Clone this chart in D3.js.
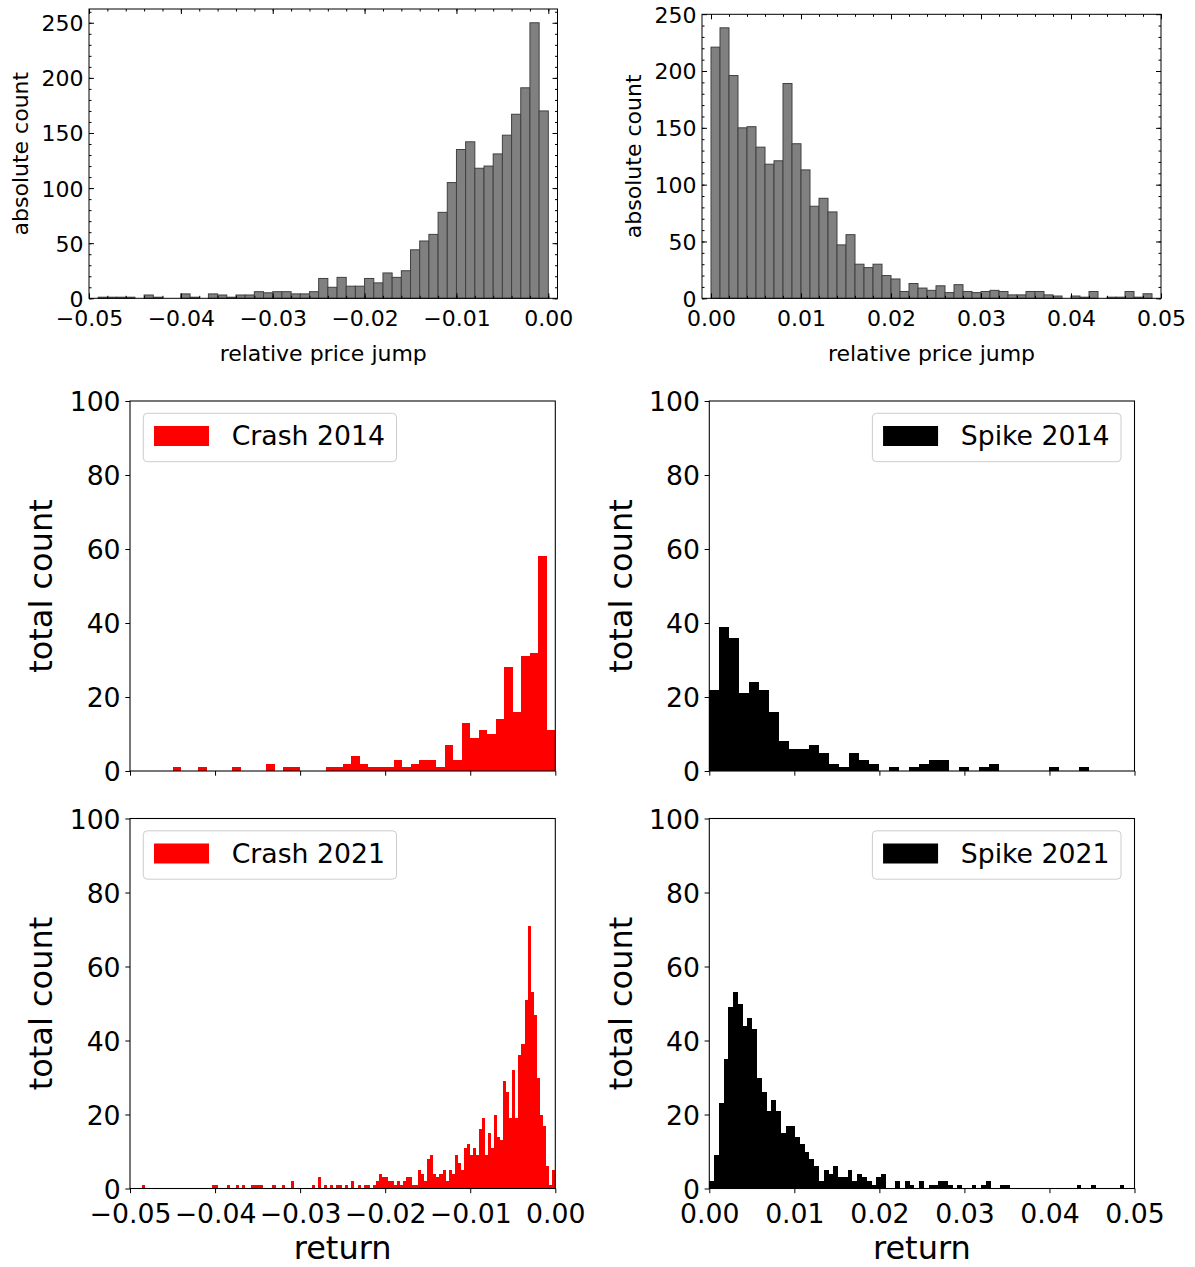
<!DOCTYPE html>
<html><head><meta charset="utf-8">
<script src="https://cdn.jsdelivr.net/npm/d3@7"></script>
<style>body{margin:0;background:#fff} svg{display:block}</style>
</head><body>
<svg id="chart" width="1195" height="1267"></svg>
<script>
// ---------------- data ----------------
// top row: all relative price jumps (histograms, bin start / width / counts)
const jumpsNegStart = -0.049, jumpsNegWidth = 0.001;
const jumpsNegCounts = [1,1,1,1,0,3,1,0,0,4, 1,0,4,3,1,3,3,6,5,6, 6,4,4,6,18,10,19,11,11,18,
  14,23,19,25,44,52,58,78,105,135, 142,118,120,131,148,167,191,250,170];
const jumpsPosStart = 0, jumpsPosWidth = 0.001;
const jumpsPosCounts = [221,238,196,150,151,133,118,121,189,136, 113,81,88,76,47,56,30,27,30,20,
  17,6,13,9,7,11,5,12,6,5, 6,7,6,3,3,6,6,3,2,0, 2,1,6,0,1,1,6,1,4];

// middle row: 2014
const crash2014Start = -0.05, crash2014Width = 0.001;
const crash2014Counts = [0,0,0,0,0,1,0,0,1,0, 0,0,1,0,0,0,2,0,1,1, 0,0,0,1,1,2,4,2,1,1,
  1,3,1,2,3,3,1,7,3,13, 9,11,10,14,28,16,31,32,58,11];
const spike2014Start = 0, spike2014Width = 0.0011765;
const spike2014Counts = [22,39,36,21,24,22,16,8,6,6, 7,5,2,1,5,3,2,0,1,0, 1,2,3,3,0,1,0,1,2,0,
  0,0,0,0,1,0,0,1];

// bottom row: 2021
const crash2021Start = -0.0486, crash2021Width = 0.000357;
const crash2021Counts = [1,0,0,0,0,0,0,0,0,0, 0,0,0,0,0,0,0,0,0,0, 0,0,0,
  1,1,0,0,0,1,0,0,1,0, 1,0,0,1,1,1,1,0,0,0, 1,0,0,1,0,0,2,0,0,0, 0,0,0,1,0,3,0,1,0,1,
  0,1,1,0,1,0,2,0,1,0, 1,1,0,1,2,4,3,3,2,2, 1,2,1,2,3,3,1,1,5,4, 2,8,9,4,3,4,5,2,5,4,
  9,7,5,11,12,9,11,9,16,19, 9,15,11,20,14,13,29,26,19,32, 19,36,39,51,71,53,47,30,20,17, 6,1,5];
const spike2021Start = 0, spike2021Width = 0.000561;
const spike2021Counts = [2,9,23,35,49,53,50,44,46,43, 30,26,21,24,21,15,17,17,14,12,
  10,8,6,2,5,4,6,3,3,5, 2,4,3,2,1,3,4,0,0,2, 0,2,1,0,2,0,1,1,2,2, 1,0,1,0,0,1,0,1,2,0,
  0,1,1,0,0,0,0,0,0,0, 0,0,0,0,0,0,0,1,0,0, 1,0,0,0,0,0,1];

// ticks and labels
const negTicks = [-0.05,-0.04,-0.03,-0.02,-0.01,0];
const posTicks = [0,0.01,0.02,0.03,0.04,0.05];
const topYTicks = [0,50,100,150,200,250];
const lowYTicks = [0,20,40,60,80,100];
const topXLabel = "relative price jump", topYLabel = "absolute count";
const lowXLabel = "return", lowYLabel = "total count";
const legendNames = ["Crash 2014","Spike 2014","Crash 2021","Spike 2021"];
const crashColor = "#ff0000", spikeColor = "#000000";

// ---------------- drawing ----------------
const svg = d3.select("#chart");
svg.append("rect").attr("width",1195).attr("height",1267).attr("fill","#fff");
const FONT = "DejaVu Sans";
const fmt2 = d3.format(".2f");

function bins(start, width, counts){
  return counts.map((c,i)=>({x0:start+i*width, x1:start+(i+1)*width, c}));
}
function styleText(sel, size){
  sel.selectAll("text").style("font-family",FONT).style("font-size",size+"px").attr("fill","#000");
}

function topPanel(o){
  const g = svg.append("g");
  const x = d3.scaleLinear().domain(o.xDomain).range([o.left,o.right]);
  const ymax = d3.max(o.counts)*1.05;
  const y = d3.scaleLinear().domain([0,ymax]).range([o.bottom,o.top]);
  g.selectAll("rect.bar").data(bins(o.start,o.width,o.counts).filter(d=>d.c>0)).join("rect")
    .attr("class","bar")
    .attr("x",d=>x(d.x0)).attr("width",d=>x(d.x1)-x(d.x0))
    .attr("y",d=>y(d.c)).attr("height",d=>y(0)-y(d.c))
    .attr("fill","#808080").attr("stroke","#404040").attr("stroke-width",1);
  const minorX = d3.range(0,26).map(i=>+(o.xTicks[0]+i*0.002).toFixed(4)).filter(v=>v>=o.xDomain[0]-1e-9&&v<=o.xDomain[1]+1e-9);
  const minorY = d3.range(0,Math.floor(ymax/10)+1).map(i=>i*10);
  const add = (axis, tr) => { const a = g.append("g").attr("transform",tr).call(axis); a.select(".domain").remove(); return a; };
  const bx = add(d3.axisBottom(x).tickValues(o.xTicks).tickFormat(fmt2).tickSizeInner(-5).tickSizeOuter(0).tickPadding(12.1), `translate(0,${o.bottom})`);
  styleText(bx,22);
  add(d3.axisBottom(x).tickValues(minorX).tickFormat("").tickSizeInner(-2.5).tickSizeOuter(0), `translate(0,${o.bottom})`);
  add(d3.axisTop(x).tickValues(o.xTicks).tickFormat("").tickSizeInner(-5).tickSizeOuter(0), `translate(0,${o.top})`);
  add(d3.axisTop(x).tickValues(minorX).tickFormat("").tickSizeInner(-2.5).tickSizeOuter(0), `translate(0,${o.top})`);
  const ly = add(d3.axisLeft(y).tickValues(topYTicks).tickFormat(d3.format("d")).tickSizeInner(-5).tickSizeOuter(0).tickPadding(5.5), `translate(${o.left},0)`);
  styleText(ly,22);
  ly.selectAll("text").attr("dy","0.36em");
  add(d3.axisLeft(y).tickValues(minorY).tickFormat("").tickSizeInner(-2.5).tickSizeOuter(0), `translate(${o.left},0)`);
  add(d3.axisRight(y).tickValues(topYTicks).tickFormat("").tickSizeInner(-5).tickSizeOuter(0), `translate(${o.right},0)`);
  add(d3.axisRight(y).tickValues(minorY).tickFormat("").tickSizeInner(-2.5).tickSizeOuter(0), `translate(${o.right},0)`);
  g.append("rect").attr("x",o.left).attr("y",o.top).attr("width",o.right-o.left).attr("height",o.bottom-o.top)
    .attr("fill","none").attr("stroke","#000").attr("stroke-width",1);
  g.append("text").attr("x",(o.left+o.right)/2).attr("y",361).attr("text-anchor","middle")
    .style("font-family",FONT).style("font-size","22px").text(topXLabel);
  g.append("text").attr("transform",`translate(${o.yLabelX},${(o.top+o.bottom)/2}) rotate(-90)`).attr("text-anchor","middle")
    .style("font-family",FONT).style("font-size","22px").text(topYLabel);
}

function lowPanel(o){
  const g = svg.append("g");
  const x = d3.scaleLinear().domain(o.xDomain).range([o.left,o.right]);
  const y = d3.scaleLinear().domain([0,100]).range([o.bottom,o.top]);
  g.selectAll("rect.bar").data(bins(o.start,o.width,o.counts).filter(d=>d.c>0)).join("rect")
    .attr("class","bar")
    .attr("x",d=>Math.round(x(d.x0))).attr("width",d=>Math.max(1,Math.round(x(d.x1))-Math.round(x(d.x0))))
    .attr("y",d=>y(d.c)).attr("height",d=>y(0)-y(d.c))
    .attr("fill",o.color).attr("shape-rendering","crispEdges");
  const add = (axis, tr) => { const a = g.append("g").attr("transform",tr).call(axis); a.select(".domain").remove(); return a; };
  const bx = add(d3.axisBottom(x).tickValues(o.xTicks).tickFormat(o.showX?fmt2:"").tickSizeInner(4.7).tickSizeOuter(0).tickPadding(10.4), `translate(0,${o.bottom})`);
  styleText(bx,26.7);
  const ly = add(d3.axisLeft(y).tickValues(lowYTicks).tickFormat(d3.format("d")).tickSizeInner(4.7).tickSizeOuter(0).tickPadding(4.7), `translate(${o.left},0)`);
  styleText(ly,26.7);
  ly.selectAll("text").attr("dy","0.36em");
  g.append("rect").attr("x",o.left).attr("y",o.top).attr("width",o.right-o.left).attr("height",o.bottom-o.top)
    .attr("fill","none").attr("stroke","#000").attr("stroke-width",1.07);
  if(o.showX){
    g.append("text").attr("x",(o.left+o.right)/2).attr("y",1259).attr("text-anchor","middle")
      .style("font-family",FONT).style("font-size","32px").text(lowXLabel);
  }
  g.append("text").attr("transform",`translate(${o.yLabelX},${(o.top+o.bottom)/2}) rotate(-90)`).attr("text-anchor","middle")
    .style("font-family",FONT).style("font-size","32px").text(lowYLabel);
  // legend
  const lg = g.append("g");
  const box = lg.append("rect").attr("rx",4).attr("ry",4).attr("fill","#fff").attr("fill-opacity",0.8)
    .attr("stroke","#cccccc").attr("stroke-width",1);
  const patch = lg.append("rect").attr("width",55).attr("height",20).attr("fill",o.color);
  const t = lg.append("text").style("font-family",FONT).style("font-size","26.7px").text(o.name);
  const tw = t.node().getComputedTextLength();
  const bw = 10.7+55+22.7+tw+11.6, bh = 48.4;
  const bl = o.legendRight ? o.right-13.5-bw : o.left+13.3;
  const bt = o.top+12.3;
  box.attr("x",bl).attr("y",bt).attr("width",bw).attr("height",bh);
  patch.attr("x",bl+10.7).attr("y",bt+12.7);
  t.attr("x",bl+88.4).attr("y",bt+31.7);
}

topPanel({left:89,right:557.5,top:9,bottom:298.3,xDomain:[-0.05,0.001],xTicks:negTicks,
  start:jumpsNegStart,width:jumpsNegWidth,counts:jumpsNegCounts,yLabelX:27.5});
topPanel({left:702,right:1161,top:14.3,bottom:298.3,xDomain:[-0.001,0.05],xTicks:posTicks,
  start:jumpsPosStart,width:jumpsPosWidth,counts:jumpsPosCounts,yLabelX:641});

lowPanel({left:130,right:555.3,top:401,bottom:771,xDomain:[-0.05,0],xTicks:negTicks,showX:false,
  start:crash2014Start,width:crash2014Width,counts:crash2014Counts,color:crashColor,name:legendNames[0],legendRight:false,yLabelX:52});
lowPanel({left:709.3,right:1134.5,top:401,bottom:771,xDomain:[0,0.05],xTicks:posTicks,showX:false,
  start:spike2014Start,width:spike2014Width,counts:spike2014Counts,color:spikeColor,name:legendNames[1],legendRight:true,yLabelX:632});
lowPanel({left:130,right:555.3,top:818.5,bottom:1188.5,xDomain:[-0.05,0],xTicks:negTicks,showX:true,
  start:crash2021Start,width:crash2021Width,counts:crash2021Counts,color:crashColor,name:legendNames[2],legendRight:false,yLabelX:52});
lowPanel({left:709.3,right:1134.5,top:818.5,bottom:1188.5,xDomain:[0,0.05],xTicks:posTicks,showX:true,
  start:spike2021Start,width:spike2021Width,counts:spike2021Counts,color:spikeColor,name:legendNames[3],legendRight:true,yLabelX:632});
</script>
</body></html>
